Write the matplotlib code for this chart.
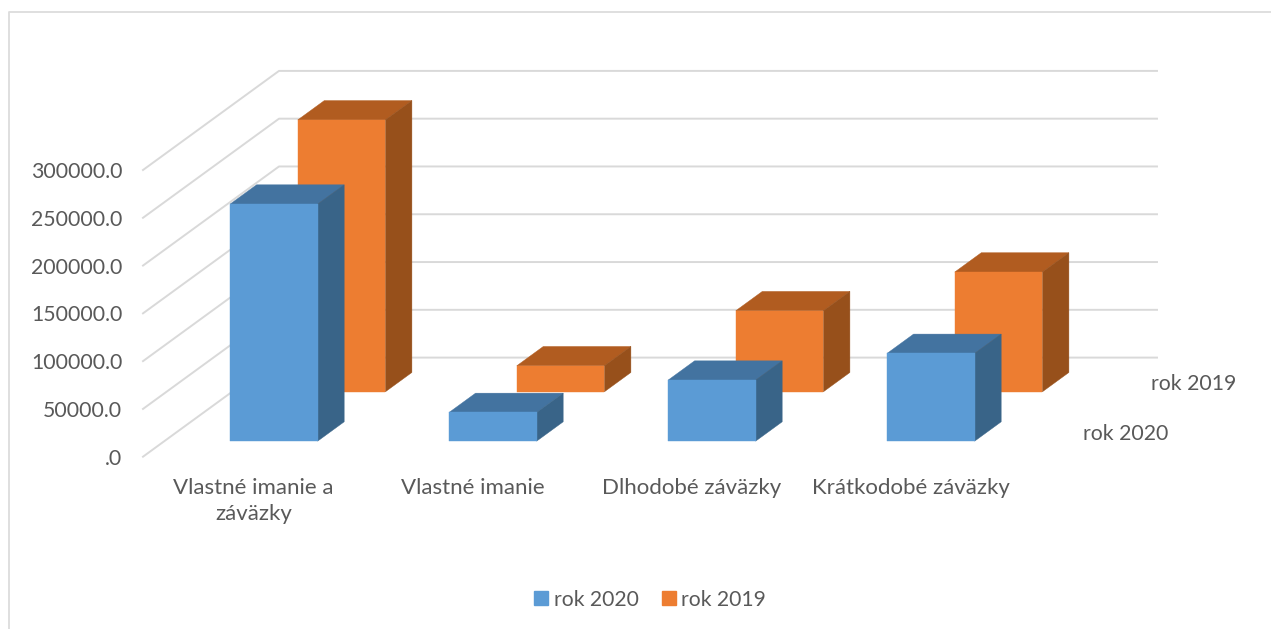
import matplotlib
matplotlib.use('Agg')
import matplotlib.pyplot as plt
from matplotlib.lines import Line2D
from matplotlib.patches import Patch, Polygon

categories = ['Vlastné imanie a\nzáväzky', 'Vlastné imanie', 'Dlhodobé záväzky', 'Krátkodobé záväzky']
rok_2020 = [248000, 30000, 63800, 91800]
rok_2019 = [284500, 27200, 84800, 125300]
value_ticks = [0, 50000, 100000, 150000, 200000, 250000, 300000]
value_labels = ['.0', '50000.0', '100000.0', '150000.0', '200000.0', '250000.0', '300000.0']
series_names = ['rok 2020', 'rok 2019']

W, H = 1271, 629
GRID = '#d9d9d9'
TEXT = '#595959'

# one unit of depth, in data units of the front plane
DEPTH_X = 136 / 219
DEPTH_Y = 103700
BAR_W = 0.4
FLOOR_END = len(categories) + 2 / 219


def project(x, depth, value):
    return x + DEPTH_X * depth, value + DEPTH_Y * depth


def draw_bar(ax, cat, value, d0, d1, front, top, side):
    x0 = cat + 0.5 - BAR_W / 2
    x1 = cat + 0.5 + BAR_W / 2
    faces = [
        ([(x0, d0, value), (x1, d0, value), (x1, d1, value), (x0, d1, value)], top),
        ([(x1, d0, 0), (x1, d1, 0), (x1, d1, value), (x1, d0, value)], side),
        ([(x0, d0, 0), (x1, d0, 0), (x1, d0, value), (x0, d0, value)], front),
    ]
    for pts, color in faces:
        ax.add_patch(Polygon([project(*p) for p in pts], closed=True, facecolor=color,
                             edgecolor=color, linewidth=0.3, clip_on=False, zorder=3))


plt.rcParams['font.family'] = ['Lato', 'DejaVu Sans']
fig = plt.figure(figsize=(W / 100, H / 100), dpi=100)
ax = fig.add_axes([143 / W, 1 - 456.7 / H, 876 / W, 286.7 / H])
ax.set_xlim(0, len(categories))
ax.set_ylim(0, 300000)
for s in ax.spines.values():
    s.set_visible(False)

# chart frame, cut off by the screenshot on the right and bottom
fig.add_artist(Line2D([9 / W, 9 / W, 1], [0, 1 - 12 / H, 1 - 12 / H], color='#dcdcdc', lw=1.3))

# gridlines on the side floor and back wall
for v in value_ticks:
    xs, ys = zip(project(0, 0, v), project(0, 1, v), project(FLOOR_END, 1, v))
    ax.plot(xs, ys, color=GRID, lw=1.4, clip_on=False, zorder=1)

for i, v in enumerate(rok_2019):
    draw_bar(ax, i, v, 0.655, 0.85, '#ed7d31', '#b15c20', '#97501b')
for i, v in enumerate(rok_2020):
    draw_bar(ax, i, v, 0.157, 0.352, '#5b9bd5', '#4373a0', '#396488')

ax.set_yticks(value_ticks, value_labels, fontsize=15.3, color=TEXT)
# labels sit a little right of the category centres in the original
ax.set_xticks([i + 0.505 for i in range(len(categories))], categories, fontsize=16,
              color=TEXT, linespacing=1.42)
ax.tick_params(axis='both', length=0)
ax.tick_params(axis='y', pad=15)
ax.tick_params(axis='x', pad=15)

# series names along the depth axis
for name, d in zip(series_names, [0.25, 0.75]):
    ax.annotate(name, project(len(categories), d, 0), xytext=(30, -2), textcoords='offset pixels',
                fontsize=15.3, color=TEXT, ha='left', va='center', annotation_clip=False)

handles = [Patch(color='#5b9bd5', label=series_names[0]), Patch(color='#ed7d31', label=series_names[1])]
fig.legend(handles=handles, loc='center', bbox_to_anchor=(650 / W, 1 - 599.5 / H), ncol=2, frameon=False,
           fontsize=15.2, labelcolor=TEXT, handlelength=0.66, handleheight=0.66,
           handletextpad=0.25, columnspacing=1.1, borderpad=0)

fig.savefig('out.png', dpi=100)
